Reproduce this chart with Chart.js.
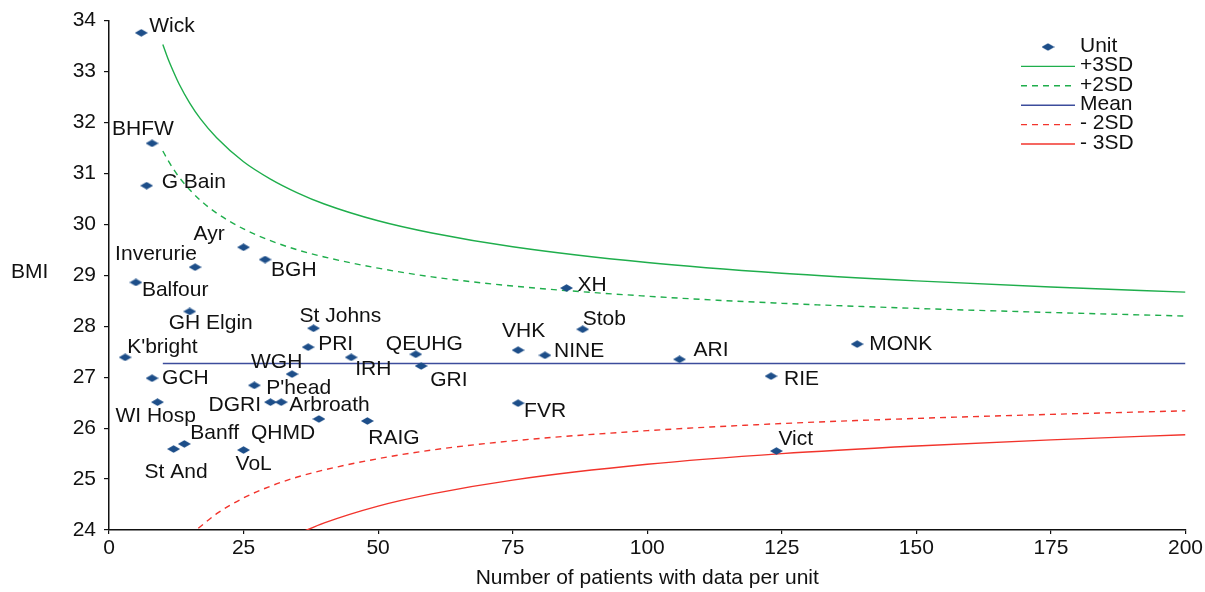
<!DOCTYPE html>
<html>
<head>
<meta charset="utf-8">
<script src="https://cdn.jsdelivr.net/npm/chart.js@4/dist/chart.umd.min.js"></script>
<style>
  html, body { margin: 0; padding: 0; background: #fff; }
  #wrap { width: 1205px; height: 592px; }
</style>
</head>
<body>
<div id="wrap"><canvas id="funnel" width="1205" height="592"></canvas></div>
<script>
// units (name, patients with data, mean BMI)
const unitNames = ["Wick", "BHFW", "G Bain", "Ayr", "Inverurie", "BGH", "Balfour", "GH Elgin",
  "St Johns", "PRI", "K'bright", "IRH", "QEUHG", "GRI", "VHK", "NINE", "Stob", "XH", "ARI",
  "RIE", "MONK", "Vict", "FVR", "GCH", "WGH", "P'head", "DGRI", "Arbroath", "WI Hosp",
  "QHMD", "RAIG", "Banff", "St And", "VoL"];
const unitN = [6, 8, 7, 25, 16, 29, 5, 15, 38, 37, 3, 45, 57, 58, 76, 81, 88, 85, 106,
  123, 139, 124, 76, 8, 34, 27, 30, 32, 9, 39, 48, 14, 12, 25];
const unitBMI = [33.76, 31.59, 30.76, 29.55, 29.16, 29.31, 28.86, 28.29, 27.96, 27.59, 27.39,
  27.39, 27.45, 27.22, 27.53, 27.43, 27.94, 28.75, 27.35, 27.02, 27.65, 25.55, 26.49, 26.98,
  27.06, 26.84, 26.51, 26.51, 26.51, 26.18, 26.14, 25.69, 25.59, 25.57];

// funnel limits
const upperN = [10, 11, 12, 13, 15, 17, 20, 25, 30, 35, 40, 50, 60, 75, 100, 125, 150, 175, 200];
const plus3SD = [33.53, 33.24, 32.99, 32.76, 32.38, 32.07, 31.70, 31.23, 30.89, 30.62, 30.40,
  30.07, 29.83, 29.56, 29.25, 29.04, 28.89, 28.77, 28.67];
const plus2SD = [31.44, 31.25, 31.08, 30.93, 30.68, 30.47, 30.22, 29.91, 29.68, 29.50, 29.36,
  29.14, 28.97, 28.79, 28.59, 28.45, 28.35, 28.27, 28.20];
const minus2N = [15, 17, 20, 25, 30, 35, 40, 50, 60, 75, 100, 125, 150, 175, 200];
const minus2SD = [23.90, 24.07, 24.32, 24.63, 24.86, 25.04, 25.18, 25.40, 25.57, 25.75, 25.95,
  26.09, 26.19, 26.27, 26.34];
const minus3N = [35, 40, 50, 60, 75, 100, 125, 150, 175, 200];
const minus3SD = [23.92, 24.14, 24.47, 24.71, 24.98, 25.29, 25.50, 25.65, 25.77, 25.87];
const meanN = [10, 200];
const meanBMI = [27.27, 27.27];

const xTicks = [0, 25, 50, 75, 100, 125, 150, 175, 200];
const yTicks = [24, 25, 26, 27, 28, 29, 30, 31, 32, 33, 34];

// label placement: [dx to text left, dy to text middle]
const labelOffsets = {
  "Wick": [8, -7], "BHFW": [-40, -14], "G Bain": [15, -3], "Ayr": [-50, -13],
  "Inverurie": [-80, -13], "BGH": [6, 11], "Balfour": [6, 8], "GH Elgin": [-21, 12],
  "St Johns": [-14, -12], "PRI": [10, -3], "K'bright": [2, -10], "IRH": [4, 12],
  "QEUHG": [-30, -10], "GRI": [9, 14], "VHK": [-16, -19], "NINE": [9, -4], "Stob": [0, -10],
  "XH": [11, -3], "ARI": [14, -9], "RIE": [13, 3], "MONK": [12, 0], "Vict": [2, -12],
  "FVR": [6, 8], "GCH": [10, 0], "WGH": [-41, -12], "P'head": [12, 3], "DGRI": [-62, 3],
  "Arbroath": [8, 3], "WI Hosp": [-42, 14], "QHMD": [-68, 14], "RAIG": [1, 17],
  "Banff": [6, -11], "St And": [-29, 23], "VoL": [-8, 14]
};

const FONT = "'Liberation Sans', Arial, Helvetica, sans-serif";
const GREEN = "#1fae4c";
const RED = "#f2342c";
const BLUE = "#3c4d9c";
const DOT = "#1d4e89";

function makeDiamond() {
  const c = document.createElement("canvas");
  c.width = 13; c.height = 8;
  const g = c.getContext("2d");
  g.fillStyle = DOT;
  g.beginPath();
  g.moveTo(0, 4); g.lineTo(6.5, 0.3); g.lineTo(13, 4); g.lineTo(6.5, 7.7);
  g.closePath();
  g.fill();
  return c;
}
const diamond = makeDiamond();

function pts(xs, ys) {
  return xs.map((x, i) => ({ x: x, y: ys[i] }));
}

function lineSet(label, xs, ys, color, dash) {
  return {
    label: label,
    data: pts(xs, ys),
    showLine: true,
    borderColor: color,
    backgroundColor: color,
    borderWidth: 1.4,
    borderDash: dash,
    pointRadius: 0,
    pointHoverRadius: 0,
    cubicInterpolationMode: "monotone",
  };
}

const unitLabels = {
  id: "unitLabels",
  afterDatasetsDraw(chart) {
    const ctx = chart.ctx;
    const meta = chart.getDatasetMeta(0);
    ctx.save();
    ctx.font = "21px " + FONT;
    ctx.fillStyle = "#111";
    ctx.textAlign = "left";
    ctx.textBaseline = "middle";
    meta.data.forEach((el, i) => {
      const name = unitNames[i];
      const off = labelOffsets[name] || [8, 0];
      ctx.fillText(name, el.x + off[0], el.y + off[1]);
    });
    ctx.restore();
  }
};

const sideText = {
  id: "sideText",
  afterDraw(chart) {
    const ctx = chart.ctx;
    ctx.save();
    ctx.font = "21px " + FONT;
    ctx.fillStyle = "#111";
    ctx.textBaseline = "middle";
    ctx.textAlign = "left";
    ctx.fillText("BMI", 11, 272);

    // legend
    const rows = chart.data.datasets;
    let y = 47;
    rows.forEach((ds, i) => {
      if (i === 0) {
        ctx.drawImage(diamond, 1048 - 6.5, y - 4);
      } else {
        ctx.strokeStyle = ds.borderColor;
        ctx.lineWidth = 1.4;
        ctx.setLineDash(ds.borderDash || []);
        ctx.beginPath();
        ctx.moveTo(1021, y);
        ctx.lineTo(1075, y);
        ctx.stroke();
        ctx.setLineDash([]);
      }
      ctx.fillText(ds.label, 1080, y - 1);
      y += 19.4;
    });
    ctx.restore();
  }
};

const ctx = document.getElementById("funnel").getContext("2d");
new Chart(ctx, {
  type: "scatter",
  data: {
    datasets: [
      {
        label: "Unit",
        data: pts(unitN, unitBMI),
        pointStyle: diamond,
        pointRadius: 6,
        pointHoverRadius: 6,
        backgroundColor: DOT,
        borderColor: DOT,
      },
      lineSet("+3SD", upperN, plus3SD, GREEN, []),
      lineSet("+2SD", upperN, plus2SD, GREEN, [6, 5]),
      lineSet("Mean", meanN, meanBMI, BLUE, []),
      lineSet("- 2SD", minus2N, minus2SD, RED, [6, 5]),
      lineSet("- 3SD", minus3N, minus3SD, RED, []),
    ],
  },
  options: {
    responsive: false,
    animation: false,
    events: [],
    layout: { padding: { top: 20, right: 18, left: 0, bottom: 0 } },
    plugins: {
      legend: { display: false },
      tooltip: { enabled: false },
    },
    scales: {
      x: {
        type: "linear",
        min: 0,
        max: 200,
        afterBuildTicks: (s) => { s.ticks = xTicks.map((v) => ({ value: v })); },
        afterFit: (s) => { s.height = 62; },
        grid: { drawOnChartArea: false, drawTicks: true, tickLength: 4, color: "#111", lineWidth: 1.2 },
        border: { display: true, color: "#111", width: 1.5 },
        ticks: { color: "#111", font: { family: FONT, size: 21 }, padding: 2, maxRotation: 0 },
        title: {
          display: true,
          text: "Number of patients with data per unit",
          color: "#111",
          font: { family: FONT, size: 21 },
          padding: { top: 0, bottom: 1 },
        },
      },
      y: {
        type: "linear",
        min: 24,
        max: 34,
        afterBuildTicks: (s) => { s.ticks = yTicks.map((v) => ({ value: v })); },
        afterFit: (s) => { s.width = 109; },
        grid: { drawOnChartArea: false, drawTicks: true, tickLength: 5, color: "#111", lineWidth: 1.2 },
        border: { display: true, color: "#111", width: 1.5 },
        ticks: { color: "#111", font: { family: FONT, size: 21 }, padding: 8 },
      },
    },
  },
  plugins: [unitLabels, sideText],
});
</script>
</body>
</html>
